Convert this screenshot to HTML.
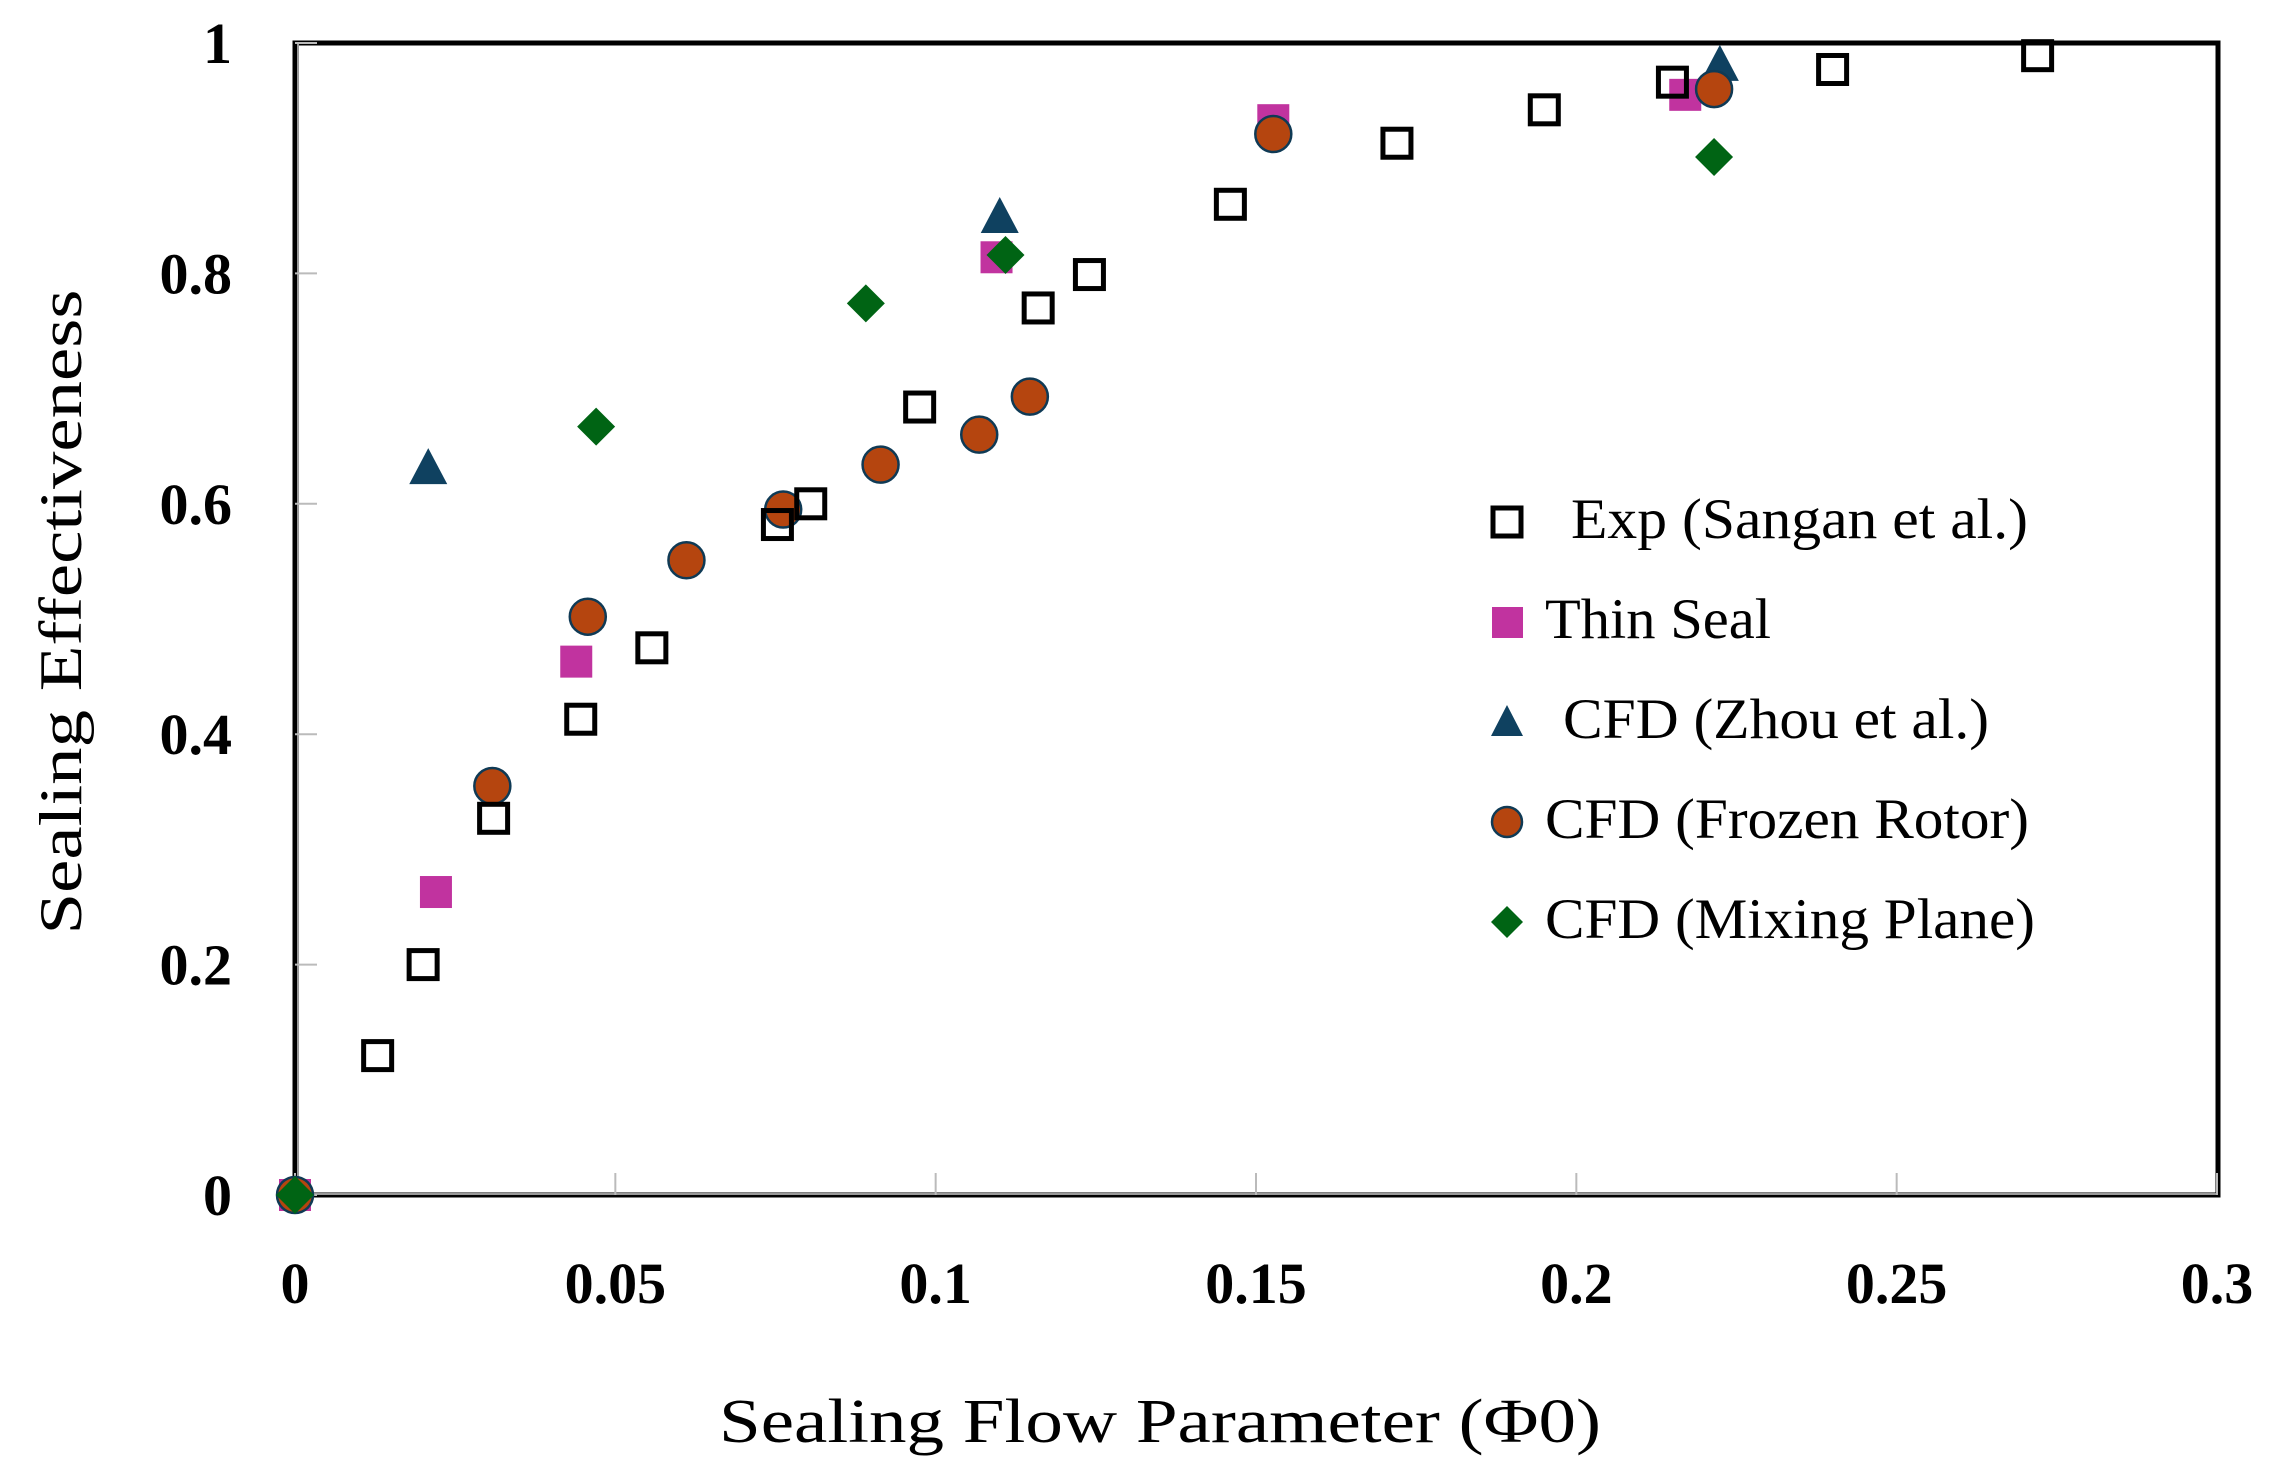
<!DOCTYPE html>
<html><head><meta charset="utf-8"><style>
html,body{margin:0;padding:0;background:#fff;}
svg{display:block;font-family:"Liberation Serif",serif;}
</style></head><body>
<svg width="2274" height="1483" viewBox="0 0 2274 1483">
<g id="frame"></g>
<g id="ticks"></g>
<g id="marks"></g>
<text x="61" y="612" transform="rotate(-90 61 612)" text-anchor="middle" dominant-baseline="central" font-size="60" textLength="645" lengthAdjust="spacingAndGlyphs">Sealing Effectiveness</text>
<text x="1160" y="1442" text-anchor="middle" font-size="62" textLength="882" lengthAdjust="spacingAndGlyphs">Sealing Flow Parameter (Φ0)</text>
<g font-size="57">
<rect x="1493" y="508" width="28" height="28" fill="none" stroke="#000" stroke-width="5"/>
<text x="1571" y="538" textLength="457" lengthAdjust="spacingAndGlyphs">Exp (Sangan et al.)</text>
<rect x="1492" y="607" width="31" height="31" fill="#c1339f"/>
<text x="1545" y="638" textLength="226" lengthAdjust="spacingAndGlyphs">Thin Seal</text>
<polygon points="1507,705 1523,736 1491,736" fill="#0f4160"/>
<text x="1563" y="738" textLength="426" lengthAdjust="spacingAndGlyphs">CFD (Zhou et al.)</text>
<circle cx="1507" cy="822" r="15" fill="#b5450f" stroke="#0f3a55" stroke-width="2.5"/>
<text x="1545" y="838" textLength="484" lengthAdjust="spacingAndGlyphs">CFD (Frozen Rotor)</text>
<polygon points="1507,906 1523,922 1507,938 1491,922" fill="#006414"/>
<text x="1545" y="938" textLength="490" lengthAdjust="spacingAndGlyphs">CFD (Mixing Plane)</text>
</g>
</svg>
<script>
const xTicks=[0,0.05,0.1,0.15,0.2,0.25,0.3];
const xTickLabels=["0","0.05","0.1","0.15","0.2","0.25","0.3"];
const yTicks=[0,0.2,0.4,0.6,0.8,1];
const yTickLabels=["0","0.2","0.4","0.6","0.8","1"];
const expX=[0.0129,0.02,0.031,0.0446,0.0557,0.0753,0.0805,0.0975,0.116,0.124,0.146,0.172,0.195,0.215,0.24,0.272];
const expY=[0.121,0.2,0.327,0.413,0.475,0.582,0.6,0.684,0.77,0.799,0.86,0.913,0.942,0.966,0.977,0.989];
const thinX=[0,0.022,0.0439,0.1095,0.1527,0.217];
const thinY=[0,0.263,0.463,0.814,0.933,0.955];
const zhouX=[0.0208,0.110,0.2224];
const zhouY=[0.631,0.849,0.981];
const frozenX=[0,0.0308,0.0457,0.0611,0.0762,0.0914,0.1068,0.1147,0.1527,0.2215];
const frozenY=[0,0.355,0.502,0.551,0.595,0.634,0.66,0.693,0.921,0.96];
const mixX=[0,0.047,0.0891,0.1109,0.2215];
const mixY=[0,0.667,0.774,0.816,0.901];

const NS="http://www.w3.org/2000/svg";
const X0=295,X1=2217,Y0=1195,Y1=43;
const sx=v=>X0+(v-0)/(0.3-0)*(X1-X0);
const sy=v=>Y0-(v-0)/(1-0)*(Y0-Y1);
function mk(tag,attrs,parent){const e=document.createElementNS(NS,tag);for(const k in attrs)e.setAttribute(k,attrs[k]);parent.appendChild(e);return e;}
const frame=document.getElementById('frame');
let fr=mk('rect',{x:X0,y:Y1,width:X1-X0+1,height:Y0-Y1,fill:'none',stroke:'#000','stroke-width':5},frame);


let ax=mk('line',{x1:X0+3,y1:Y1,x2:X0+3,y2:Y0,stroke:'#999','stroke-width':2},frame);


let axx=mk('line',{x1:X0,y1:Y0-1,x2:X1,y2:Y0-1,stroke:'#999','stroke-width':2},frame);


const tg=document.getElementById('ticks');
xTicks.forEach((v,i)=>{
  const l=mk('line',{x1:sx(v),y1:Y0,x2:sx(v),y2:Y0-22,stroke:'#bbb','stroke-width':2},tg);
  
  
  const t=mk('text',{x:sx(v),y:1303,'text-anchor':'middle','font-size':58,'font-weight':'bold'},tg);
  t.textContent=xTickLabels[i];
  
  
});
yTicks.forEach((v,i)=>{
  const l=mk('line',{x1:X0,y1:sy(v),x2:X0+22,y2:sy(v),stroke:'#bbb','stroke-width':2},tg);
  
  
  const t=mk('text',{x:232,y:sy(v)+20,'text-anchor':'end','font-size':58,'font-weight':'bold'},tg);
  t.textContent=yTickLabels[i];
  
  
});
const mg=document.getElementById('marks');
thinX.forEach((v,i)=>{const x=sx(v),y=sy(thinY[i]);
  const e=mk('rect',{x:x-16,y:y-16,width:32,height:32,fill:'#c1339f'},mg);
  
  });
zhouX.forEach((v,i)=>{const x=sx(v),y=sy(zhouY[i]);
  const e=mk('polygon',{points:`${x},${y-20} ${x+19},${y+16} ${x-19},${y+16}`,fill:'#0f4160'},mg);
  
  });
frozenX.forEach((v,i)=>{const x=sx(v),y=sy(frozenY[i]);
  const e=mk('circle',{cx:x,cy:y,r:18,fill:'#b5450f',stroke:'#0f3a55','stroke-width':2.5},mg);
  
  });
expX.forEach((v,i)=>{const x=sx(v),y=sy(expY[i]);
  const e=mk('rect',{x:x-14,y:y-14,width:28,height:28,fill:'none',stroke:'#000','stroke-width':5},mg);
  
  });
mixX.forEach((v,i)=>{const x=sx(v),y=sy(mixY[i]);
  const e=mk('polygon',{points:`${x},${y-19} ${x+19},${y} ${x},${y+19} ${x-19},${y}`,fill:'#006414'},mg);
  
  });
</script>
</body></html>
